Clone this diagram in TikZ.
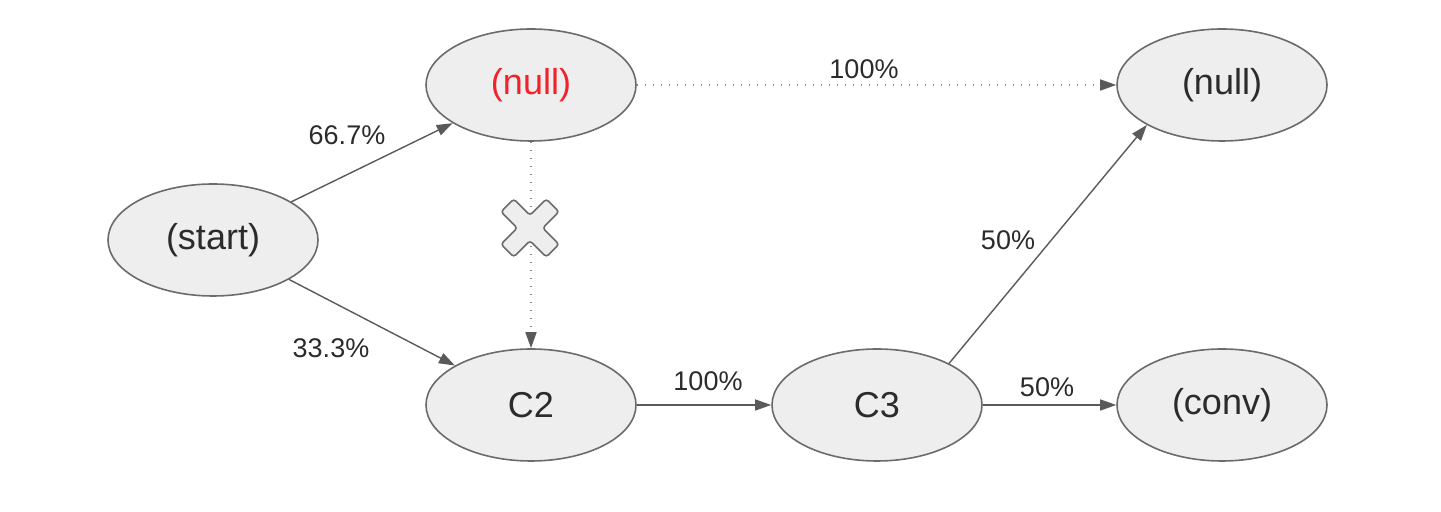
\documentclass[tikz,border=0pt]{standalone}
\usepackage{fontspec}
\setmainfont{Liberation Sans}
\usetikzlibrary{shapes.geometric,arrows.meta}
\definecolor{nodefill}{HTML}{EEEEEE}
\definecolor{bordergray}{HTML}{6B6B6B}
\definecolor{edgegray}{HTML}{5A5A5A}
\definecolor{dotgray}{HTML}{8A8A8A}
\definecolor{txt}{HTML}{2B2B2B}
\definecolor{redtxt}{HTML}{F2222A}
\tikzset{
  state/.style={ellipse, draw=bordergray, fill=nodefill, line width=0.8pt,
    minimum width=105pt, minimum height=56pt, inner sep=0pt,
    text=txt, font=\fontsize{18}{20}\selectfont},
  edge/.style={draw=edgegray, line width=0.7pt,
    -{Triangle[length=8pt,width=5.5pt]}},
  dotedge/.style={draw=dotgray, line width=0.8pt, dash pattern=on 0.8pt off 3.2pt,
    -{Triangle[length=8pt,width=5.5pt,color=edgegray,fill=edgegray]}},
  lbl/.style={text=txt, font=\fontsize{13.5}{16}\selectfont, inner sep=0pt},
  crossmark/.style={draw=bordergray, fill=nodefill, line width=0.8pt, rounded corners=1.5pt}
}
\begin{document}
\begin{tikzpicture}[x=0.5pt,y=-0.5pt]
\useasboundingbox (0,0) rectangle (1441,512);
\node[state] (start) at (213,240) {(start)};
\node[state, text=redtxt] (n1) at (531,85) {(null)};
\node[state] (n2) at (1222,85) {(null)};
\node[state] (c2) at (531,405) {C2};
\node[state] (c3) at (877,405) {C3};
\node[state] (conv) at (1222,405) {(conv)};

\draw[edge] (start) -- (n1);
\draw[edge] (start) -- (c2);
\draw[dotedge] (n1) -- (c2);
\draw[dotedge] (n1) -- (n2);
\draw[edge] (c2) -- (c3);
\draw[edge] (c3) -- (conv);
\draw[edge] (c3.30) -- (n2.208);

\coordinate (x) at (530,228);
\begin{scope}[shift={(x)}, rotate=45]
\draw[crossmark] (9,32) -- (9,9) -- (32,9) -- (32,-9) -- (9,-9) -- (9,-32)
  -- (-9,-32) -- (-9,-9) -- (-32,-9) -- (-32,9) -- (-9,9) -- (-9,32) -- cycle;
\end{scope}

\node[lbl] (l1) at (347,135) {66.7\%};
\node[lbl] (l2) at (331,348) {33.3\%};
\node[lbl] (l3) at (864,69) {100\%};
\node[lbl] (l4) at (1008,240) {50\%};
\node[lbl] (l5) at (708,381) {100\%};
\node[lbl] (l6) at (1047,387) {50\%};
\end{tikzpicture}
\end{document}
